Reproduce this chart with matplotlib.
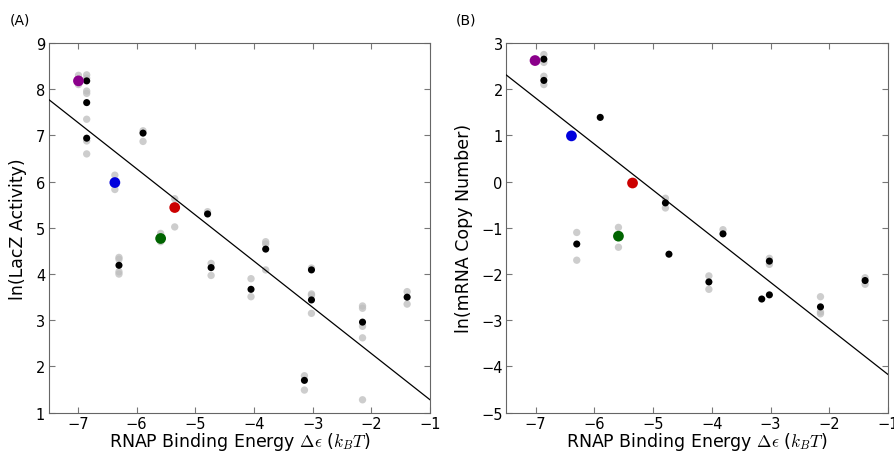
import numpy as np
import matplotlib
matplotlib.use('Agg')
import matplotlib.pyplot as plt

plt.rcParams['mathtext.fontset'] = 'cm'
plt.rcParams['font.family'] = 'DejaVu Sans'

# ---- Painel A: atividade LacZ ----
a_preto_x = [-6.85, -6.85, -6.85, -6.30, -5.89, -4.79, -4.73, -4.05, -3.80, -3.14, -3.02, -3.02, -2.15, -1.39]
a_preto_y = [8.18, 7.71, 6.94, 4.19, 7.05, 5.30, 4.14, 3.67, 4.54, 1.70, 4.09, 3.44, 2.96, 3.50]

a_cinza_x = [-6.99, -6.99, -6.85, -6.85, -6.85, -6.85, -6.85, -6.85, -6.85,
             -6.37, -6.37, -5.89, -5.89, -5.35, -5.35, -4.79,
             -6.30, -6.30, -6.30, -6.30, -5.59, -5.59, -4.73, -4.73,
             -4.05, -4.05, -3.80, -3.80, -3.80, -3.14, -3.14, -3.02,
             -3.02, -3.02, -3.02, -2.15, -2.15, -2.15, -2.15, -2.15, -1.39, -1.39]
a_cinza_y = [8.30, 8.10, 8.31, 8.24, 7.96, 7.91, 7.35, 6.88, 6.60,
             6.14, 5.83, 7.10, 6.87, 5.63, 5.02, 5.35,
             4.36, 4.32, 4.05, 4.00, 4.88, 4.70, 4.23, 3.97,
             3.90, 3.51, 4.70, 4.65, 4.09, 1.80, 1.49, 4.13,
             3.57, 3.54, 3.15, 3.31, 3.26, 2.87, 2.62, 1.28, 3.62, 3.35]

a_cor_x = [-6.99, -6.37, -5.35, -5.59]
a_cor_y = [8.18, 5.98, 5.44, 4.77]

# ---- Painel B: número de cópias de mRNA ----
b_preto_x = [-6.86, -6.86, -5.90, -4.79, -6.30, -4.73, -3.81, -4.05, -3.15, -3.02, -3.02, -2.15, -1.39]
b_preto_y = [2.65, 2.19, 1.39, -0.46, -1.35, -1.57, -1.13, -2.17, -2.54, -2.45, -1.72, -2.71, -2.14]

b_cinza_x = [-6.86, -6.86, -6.86, -6.86, -4.79, -4.79, -6.30, -6.30, -5.59, -5.59,
             -3.81, -4.05, -4.05, -3.02, -3.02, -2.15, -2.15, -2.15, -1.39, -1.39]
b_cinza_y = [2.75, 2.58, 2.28, 2.10, -0.36, -0.57, -1.10, -1.70, -0.99, -1.42,
             -1.04, -2.04, -2.33, -1.66, -1.79, -2.49, -2.82, -2.86, -2.08, -2.22]

b_cor_x = [-7.01, -6.39, -5.35, -5.59]
b_cor_y = [2.62, 0.99, -0.03, -1.18]

cores = ['#8b008b', '#0000dd', '#cc0000', '#006400']

# reta ajustada (inclinação e intercepto)
a_reta = (-1.0, 0.28)
b_reta = (-0.997, -5.17)


def painel(ax, px, py, cx, cy, kx, ky, reta, ylim, ylabel):
    ax.scatter(cx, cy, s=28, color='#bdbdbd', alpha=0.75, edgecolors='none', zorder=2)
    xs = np.array([-7.5, -1.0])
    ax.plot(xs, reta[0] * xs + reta[1], color='black', lw=0.9, zorder=3)
    ax.scatter(px, py, s=26, color='black', edgecolors='none', zorder=4)
    ax.scatter(kx, ky, s=60, color=cores, edgecolors='none', zorder=5)
    ax.set_xlim(-7.5, -1)
    ax.set_ylim(*ylim)
    ax.set_xticks(range(-7, 0))
    ax.set_xlabel(r'RNAP Binding Energy $\Delta\epsilon$ ($k_BT$)', fontsize=12.5, labelpad=-0.5)
    ax.set_ylabel(ylabel, fontsize=12.5, labelpad=6)
    ax.tick_params(direction='in', top=True, right=True, length=4, color='#777777',
                   labelsize=10.5, pad=2.5)
    for s in ax.spines.values():
        s.set_color('#666666')


fig = plt.figure(figsize=(8.94, 4.52), dpi=100)
ax1 = fig.add_axes([0.0543, 0.0847, 0.4267, 0.818])
ax2 = fig.add_axes([0.5663, 0.0847, 0.427, 0.818])

painel(ax1, a_preto_x, a_preto_y, a_cinza_x, a_cinza_y, a_cor_x, a_cor_y,
       a_reta, (1, 9), 'ln(LacZ Activity)')
painel(ax2, b_preto_x, b_preto_y, b_cinza_x, b_cinza_y, b_cor_x, b_cor_y,
       b_reta, (-5, 3), 'ln(mRNA Copy Number)')

fig.text(10 / 894, 1 - 20 / 452, '(A)', fontsize=10, va='center')
fig.text(456 / 894, 1 - 20 / 452, '(B)', fontsize=10, va='center')

fig.savefig('out.png', dpi=100)
